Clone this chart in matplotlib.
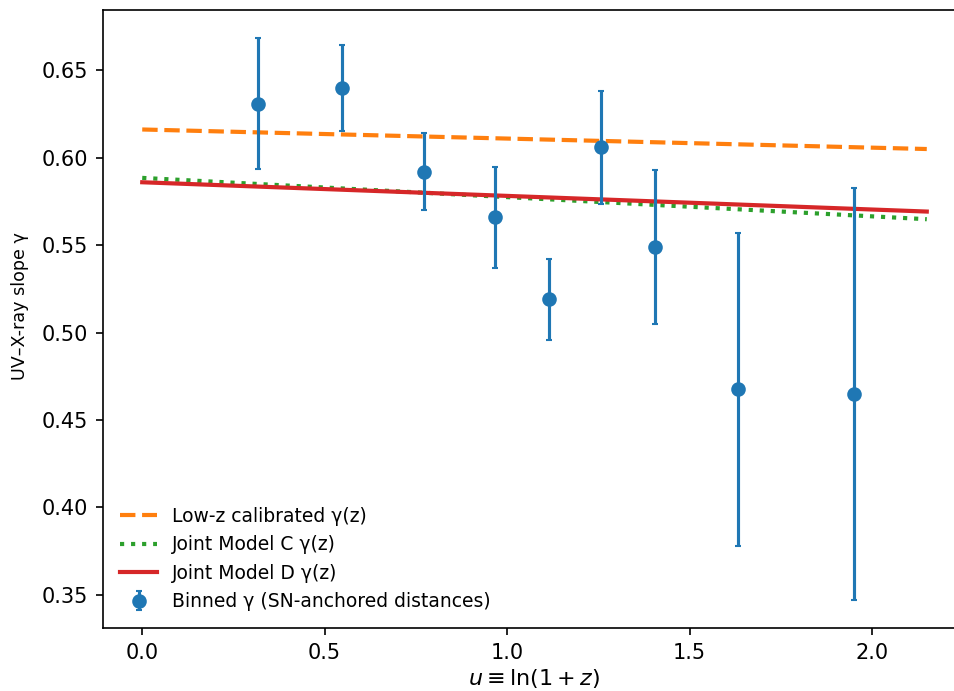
import numpy as np
import matplotlib
matplotlib.use("Agg")
import matplotlib.pyplot as plt

# binned gamma values
u_bins = [0.316, 0.547, 0.771, 0.967, 1.115, 1.257, 1.404, 1.633, 1.951]
gamma_bins = [0.631, 0.640, 0.592, 0.566, 0.519, 0.606, 0.549, 0.4675, 0.465]
gamma_err = [0.0375, 0.0245, 0.022, 0.029, 0.023, 0.0325, 0.044, 0.0895, 0.118]

# model curves gamma(u) = g0 + g1 * u
u_max = 2.15
lowz_g0, lowz_g1 = 0.6162, -0.0052
modelC_g0, modelC_g1 = 0.5885, -0.0110
modelD_g0, modelD_g1 = 0.5860, -0.0078

u_grid = np.linspace(0, u_max, 200)

fig = plt.figure(figsize=(954 / 150, 691 / 150), dpi=150)
ax = fig.add_axes([103 / 954, 63 / 691, 863 / 954, 618 / 691])

ax.plot(u_grid, lowz_g0 + lowz_g1 * u_grid, '--', color='tab:orange', lw=2,
        label='Low-z calibrated γ(z)')
ax.plot(u_grid, modelC_g0 + modelC_g1 * u_grid, ':', color='tab:green', lw=2,
        label='Joint Model C γ(z)')
ax.plot(u_grid, modelD_g0 + modelD_g1 * u_grid, '-', color='tab:red', lw=2,
        label='Joint Model D γ(z)')
ax.errorbar(u_bins, gamma_bins, yerr=gamma_err, fmt='o', color='tab:blue',
            capsize=1.6, label='Binned γ (SN-anchored distances)')

ax.set_xlabel(r'$u \equiv \ln(1+z)$', fontsize=10.7, labelpad=2)
ax.set_ylabel('UV–X-ray slope γ', fontsize=8.4)
ax.yaxis.set_label_coords(-0.086, 0.521)
ax.set_xticks([0.0, 0.5, 1.0, 1.5, 2.0])
ax.set_yticks([0.35, 0.40, 0.45, 0.50, 0.55, 0.60, 0.65])
ax.legend(loc='lower left', frameon=False, fontsize=9, labelspacing=0.5)

fig.savefig('out.png', dpi=150)
